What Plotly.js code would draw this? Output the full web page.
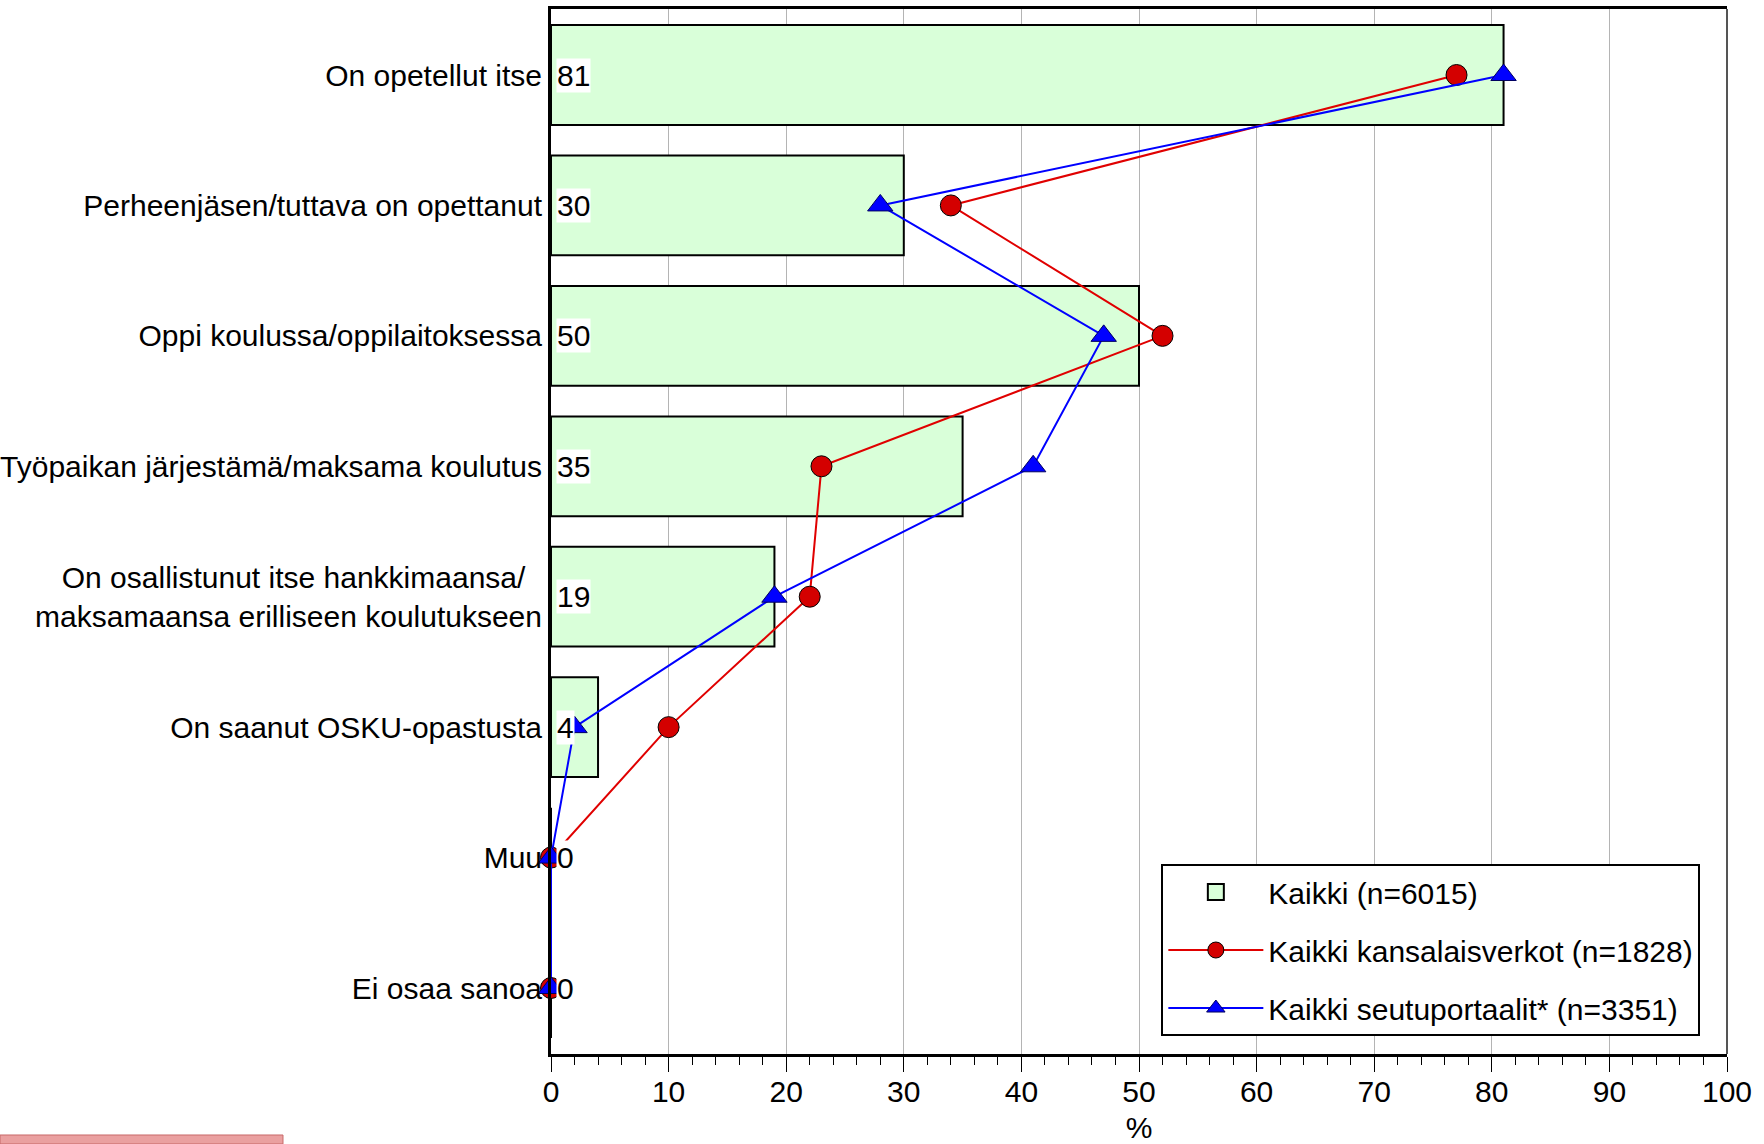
<!DOCTYPE html>
<html>
<head>
<meta charset="utf-8">
<script src="https://cdn.plot.ly/plotly-3.0.1.min.js"></script>
<style>html,body{margin:0;padding:0;background:#fff;}#chart{width:1764px;height:1144px;}</style>
</head>
<body>
<div id="chart"></div>
<script>
const categories = [
  "On opetellut itse",
  "Perheenjäsen/tuttava on opettanut",
  "Oppi koulussa/oppilaitoksessa",
  "Työpaikan järjestämä/maksama koulutus",
  "On osallistunut itse hankkimaansa/ maksamaansa erilliseen koulutukseen",
  "On saanut OSKU-opastusta",
  "Muu",
  "Ei osaa sanoa"
];
const tickLabels = [
  "On opetellut itse",
  "Perheenjäsen/tuttava on opettanut",
  "Oppi koulussa/oppilaitoksessa",
  "Työpaikan järjestämä/maksama koulutus",
  "On osallistunut itse hankkimaansa/\u00a0\u00a0<br>maksamaansa erilliseen koulutukseen",
  "On saanut OSKU-opastusta",
  "Muu",
  "Ei osaa sanoa"
];
const kaikki = [81, 30, 50, 35, 19, 4, 0, 0];
const kansalaisverkot = [77, 34, 52, 23, 22, 10, 0, 0];
const seutuportaalit = [81, 28, 47, 41, 19, 2, 0, 0];
const seriesNames = ["Kaikki (n=6015)", "Kaikki kansalaisverkot (n=1828)", "Kaikki seutuportaalit* (n=3351)"];

const FONT = "Liberation Sans, Arial, sans-serif";
const FS = 30;

const traces = [
  {
    type: "bar", orientation: "h", x: kaikki, y: categories, name: seriesNames[0],
    marker: {color: "#d9ffd9", line: {color: "#000", width: 2}},
    showlegend: false, hoverinfo: "x+y"
  },
  {
    type: "scatter", mode: "markers", x: [null], y: [null], name: seriesNames[0],
    legendgroup: "g1",
    marker: {symbol: "square", size: 22, color: "#d9ffd9", line: {color: "#000", width: 2}}
  },
  {
    type: "scatter", mode: "lines+markers", x: kansalaisverkot, y: categories, name: seriesNames[1],
    legendgroup: "g2", cliponaxis: false,
    line: {color: "#e00000", width: 2},
    marker: {symbol: "circle", size: 21, color: "#d40000", line: {color: "#000", width: 1}}
  },
  {
    type: "scatter", mode: "lines+markers", x: seutuportaalit, y: categories, name: seriesNames[2],
    legendgroup: "g3", cliponaxis: false,
    line: {color: "#0000ff", width: 2},
    marker: {symbol: "triangle-up", size: 22, color: "#0000ff", line: {color: "#000060", width: 1}}
  }
];

const annotations = categories.map((c, i) => ({
  x: 0, y: c, xref: "x", yref: "y", text: String(kaikki[i]),
  xanchor: "left", yanchor: "middle", showarrow: false, xshift: 5,
  bgcolor: "#ffffff", borderpad: 0,
  font: {family: FONT, size: FS, color: "#000"}
}));

const layout = {
  width: 1764, height: 1144,
  margin: {l: 551, r: 37, t: 9, b: 90, pad: 0},
  paper_bgcolor: "#fff", plot_bgcolor: "#fff",
  font: {family: FONT, size: FS, color: "#000"},
  bargap: 0.235,
  xaxis: {
    range: [0, 100], tick0: 0, dtick: 10, showgrid: true, gridcolor: "#b4b4b4", gridwidth: 1,
    zeroline: false, showline: true, mirror: true, linecolor: "#000", linewidth: 3,
    ticks: "outside", ticklen: 15, tickwidth: 1, tickcolor: "#000",
    minor: {dtick: 2, ticks: "outside", ticklen: 8, tickwidth: 1, tickcolor: "#000", showgrid: false},
    tickfont: {family: FONT, size: FS, color: "#000"}, ticklabelstandoff: -6,
    title: {text: "%", font: {family: FONT, size: FS, color: "#000"}, standoff: 11},
    automargin: false, fixedrange: true
  },
  yaxis: {
    type: "category", autorange: "reversed", categoryorder: "array", categoryarray: categories,
    tickvals: categories, ticktext: tickLabels,
    showgrid: false, zeroline: false, showline: true, linecolor: "#000", linewidth: 3,
    ticks: "", tickfont: {family: FONT, size: FS, color: "#000"},
    automargin: false, fixedrange: true
  },
  legend: {
    x: 0.519, y: 0.1818, xanchor: "left", yanchor: "top",
    bgcolor: "#fff", bordercolor: "#000", borderwidth: 2,
    font: {family: FONT, size: FS, color: "#000"},
    itemwidth: 95, tracegroupgap: 16, traceorder: "grouped"
  },
  annotations: annotations,
  shapes: [
    {type: "line", xref: "paper", yref: "paper", x0: 1, x1: 1, y0: 0, y1: 1, line: {color: "#555", width: 2}},
    {type: "rect", xref: "paper", yref: "paper", x0: -0.4685, x1: -0.2279, y0: -0.0861, y1: -0.0775,
     fillcolor: "#eaa0a0", line: {color: "#c86a6a", width: 1}}
  ],
  showlegend: true
};

Plotly.newPlot("chart", traces, layout, {displayModeBar: false, staticPlot: true});
</script>
</body>
</html>
